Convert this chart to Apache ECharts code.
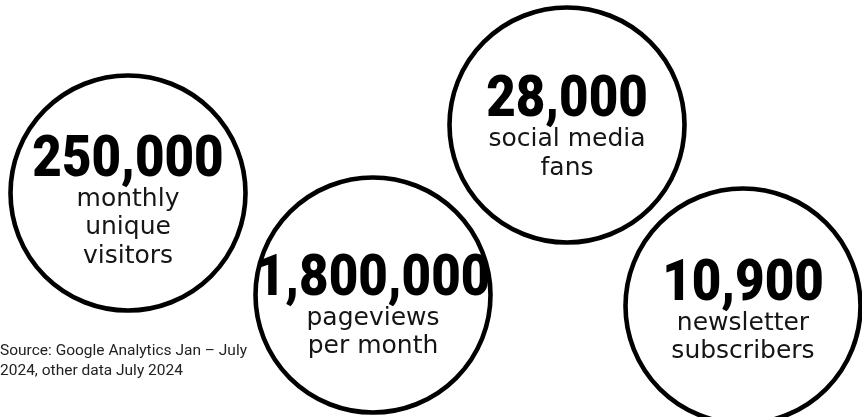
<!DOCTYPE html>
<html>
<head>
<meta charset="utf-8">
<script src="https://cdn.jsdelivr.net/npm/echarts@6/dist/echarts.min.js"></script>
<style>
html,body{margin:0;padding:0;background:#fff;}
#chart{width:862px;height:417px;}
</style>
</head>
<body>
<div id="chart"></div>
<script>
// ---- data ----
const metricValues = [250000, 1800000, 28000, 10900];
const metricDescriptions = [
  ['monthly', 'unique', 'visitors'],
  ['pageviews', 'per month'],
  ['social media', 'fans'],
  ['newsletter', 'subscribers']
];
const sourceNote = 'Source: Google Analytics Jan \u2013 July\n2024, other data July 2024';

// ---- layout (bubble placement on a hidden 862x417 canvas) ----
const layoutX = [128, 373, 567, 743];
const layoutY = [193, 295, 125, 306];
const numberShift = [-32, -15, -23.5, -21];

const chart = echarts.init(document.getElementById('chart'), null, {renderer: 'canvas'});

const seriesData = metricValues.map((v, i) => [layoutX[i], layoutY[i], v, i]);

function renderBubble(params, api) {
  const i = api.value(3);
  const c = api.coord([api.value(0), api.value(1)]);
  const cx = c[0], cy = c[1];
  const numY = cy + numberShift[i];
  const children = [{
    type: 'circle',
    shape: {cx: cx, cy: cy, r: 117.5},
    style: {fill: '#ffffff', stroke: '#000000', lineWidth: 4.6}
  }, {
    type: 'text',
    x: cx, y: numY,
    scaleX: 0.88,
    style: {
      text: api.value(2).toLocaleString('en-US'),
      x: 0, y: 0,
      align: 'center', verticalAlign: 'middle',
      fontFamily: 'Roboto, sans-serif', fontWeight: 900, fontSize: 58,
      fill: '#000'
    }
  }];
  metricDescriptions[i].forEach((d, k) => {
    children.push({
      type: 'text',
      x: cx, y: numY + 38 + 28.5 * k,
      style: {
        text: d, x: 0, y: 0,
        align: 'center', verticalAlign: 'middle',
        fontFamily: '"DejaVu Sans", sans-serif', fontWeight: 'normal', fontSize: 25,
        fill: '#151515'
      }
    });
  });
  return {type: 'group', children: children};
}

chart.setOption({
  animation: false,
  backgroundColor: '#ffffff',
  title: {
    text: sourceNote,
    left: 0,
    top: 341,
    padding: [0, 0, 0, 0],
    textStyle: {
      fontFamily: 'Roboto, sans-serif',
      fontWeight: 'normal',
      fontSize: 15.5,
      lineHeight: 20,
      color: '#222'
    }
  },
  grid: {left: 0, right: 0, top: 0, bottom: 0},
  xAxis: {type: 'value', min: 0, max: 862, show: false},
  yAxis: {type: 'value', min: 0, max: 417, inverse: true, show: false},
  series: [{
    type: 'custom',
    renderItem: renderBubble,
    clip: false,
    data: seriesData
  }]
});
</script>
</body>
</html>
